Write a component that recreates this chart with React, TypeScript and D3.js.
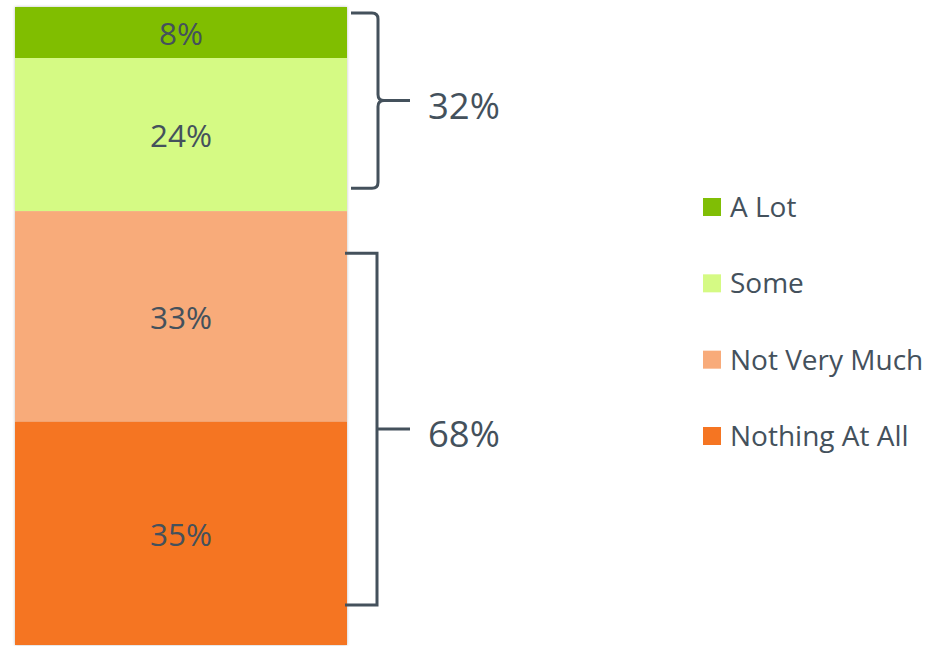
import React from "react";
import * as d3 from "d3";

const categories = ["A Lot", "Some", "Not Very Much", "Nothing At All"];
const values = [8, 24, 33, 35];
const colors = ["#80be05", "#d5fa84", "#f8ab7a", "#f57522"];
const groupLabels = ["32%", "68%"];
const groupRanges: [number, number][] = [[0, 32], [32, 100]];

const W = 927, H = 646;
const TEXT = "#44515c";
const FONT = "'Open Sans', sans-serif";

export default function App() {
  const y = d3.scaleLinear().domain([0, 100]).range([7, 645]);
  const x0 = 15, x1 = 347;
  let cum = 0;
  const segs = values.map((v, i) => {
    const s = { start: cum, end: cum + v, v, i };
    cum += v;
    return s;
  });

  // curly brace for first group
  const bTop = y(groupRanges[0][0]) + 6;
  const bBot = y(groupRanges[0][1]) - 23;
  const bMid = (bTop + bBot) / 2;
  const bx = 378;
  const brace = d3.path();
  brace.moveTo(351, bTop);
  brace.lineTo(bx - 6, bTop);
  brace.quadraticCurveTo(bx, bTop, bx, bTop + 6);
  brace.lineTo(bx, bMid - 6);
  brace.quadraticCurveTo(bx, bMid, bx + 6, bMid);
  brace.lineTo(410, bMid);
  brace.moveTo(bx + 6, bMid);
  brace.quadraticCurveTo(bx, bMid, bx, bMid + 6);
  brace.lineTo(bx, bBot - 6);
  brace.quadraticCurveTo(bx, bBot, bx - 6, bBot);
  brace.lineTo(351, bBot);

  // square bracket for second group
  const sTop = y(groupRanges[1][0]) + 42;
  const sBot = y(groupRanges[1][1]) - 40;
  const sMid = (sTop + sBot) / 2;
  const sx = 377;
  const bracket = d3.path();
  bracket.moveTo(345, sTop);
  bracket.lineTo(sx, sTop);
  bracket.lineTo(sx, sBot);
  bracket.lineTo(345, sBot);
  bracket.moveTo(sx, sMid);
  bracket.lineTo(410, sMid);

  const legendY = d3.scalePoint<string>().domain(categories).range([207, 436]);

  return (
    <svg width={W} height={H} style={{ position: "absolute", left: 0, top: 0 }}>
      <defs>
        <filter id="sh" x="-5%" y="-5%" width="110%" height="110%">
          <feDropShadow dx="0" dy="0" stdDeviation="1.5" floodColor="#000" floodOpacity="0.25" />
        </filter>
      </defs>
      <rect x={0} y={0} width={W} height={H} fill="#fff" />
      <g filter="url(#sh)">
        {segs.map((s) => (
          <rect key={s.i} x={x0} y={y(s.start)} width={x1 - x0} height={y(s.end) - y(s.start)} fill={colors[s.i]} />
        ))}
      </g>
      {segs.map((s) => (
        <text key={"t" + s.i} x={(x0 + x1) / 2} y={(y(s.start) + y(s.end)) / 2 + 1} dy="0.36em"
          textAnchor="middle" fontFamily={FONT} fontSize={31.5} fill={TEXT}>
          {s.v}%
        </text>
      ))}
      <path d={brace.toString()} fill="none" stroke={TEXT} strokeWidth={3} />
      <path d={bracket.toString()} fill="none" stroke={TEXT} strokeWidth={3} />
      <text x={428} y={bMid + 5} dy="0.36em" fontFamily={FONT} fontSize={36.5} fill={TEXT}>{groupLabels[0]}</text>
      <text x={428} y={sMid + 5} dy="0.36em" fontFamily={FONT} fontSize={36.5} fill={TEXT}>{groupLabels[1]}</text>
      {categories.map((c, i) => (
        <g key={c} transform={`translate(0,${legendY(c)})`}>
          <rect x={703} y={-9} width={18} height={18} fill={colors[i]} />
          <text x={730} y={0} dy="0.36em" fontFamily={FONT} fontSize={28} fill={TEXT}>{c}</text>
        </g>
      ))}
    </svg>
  );
}
